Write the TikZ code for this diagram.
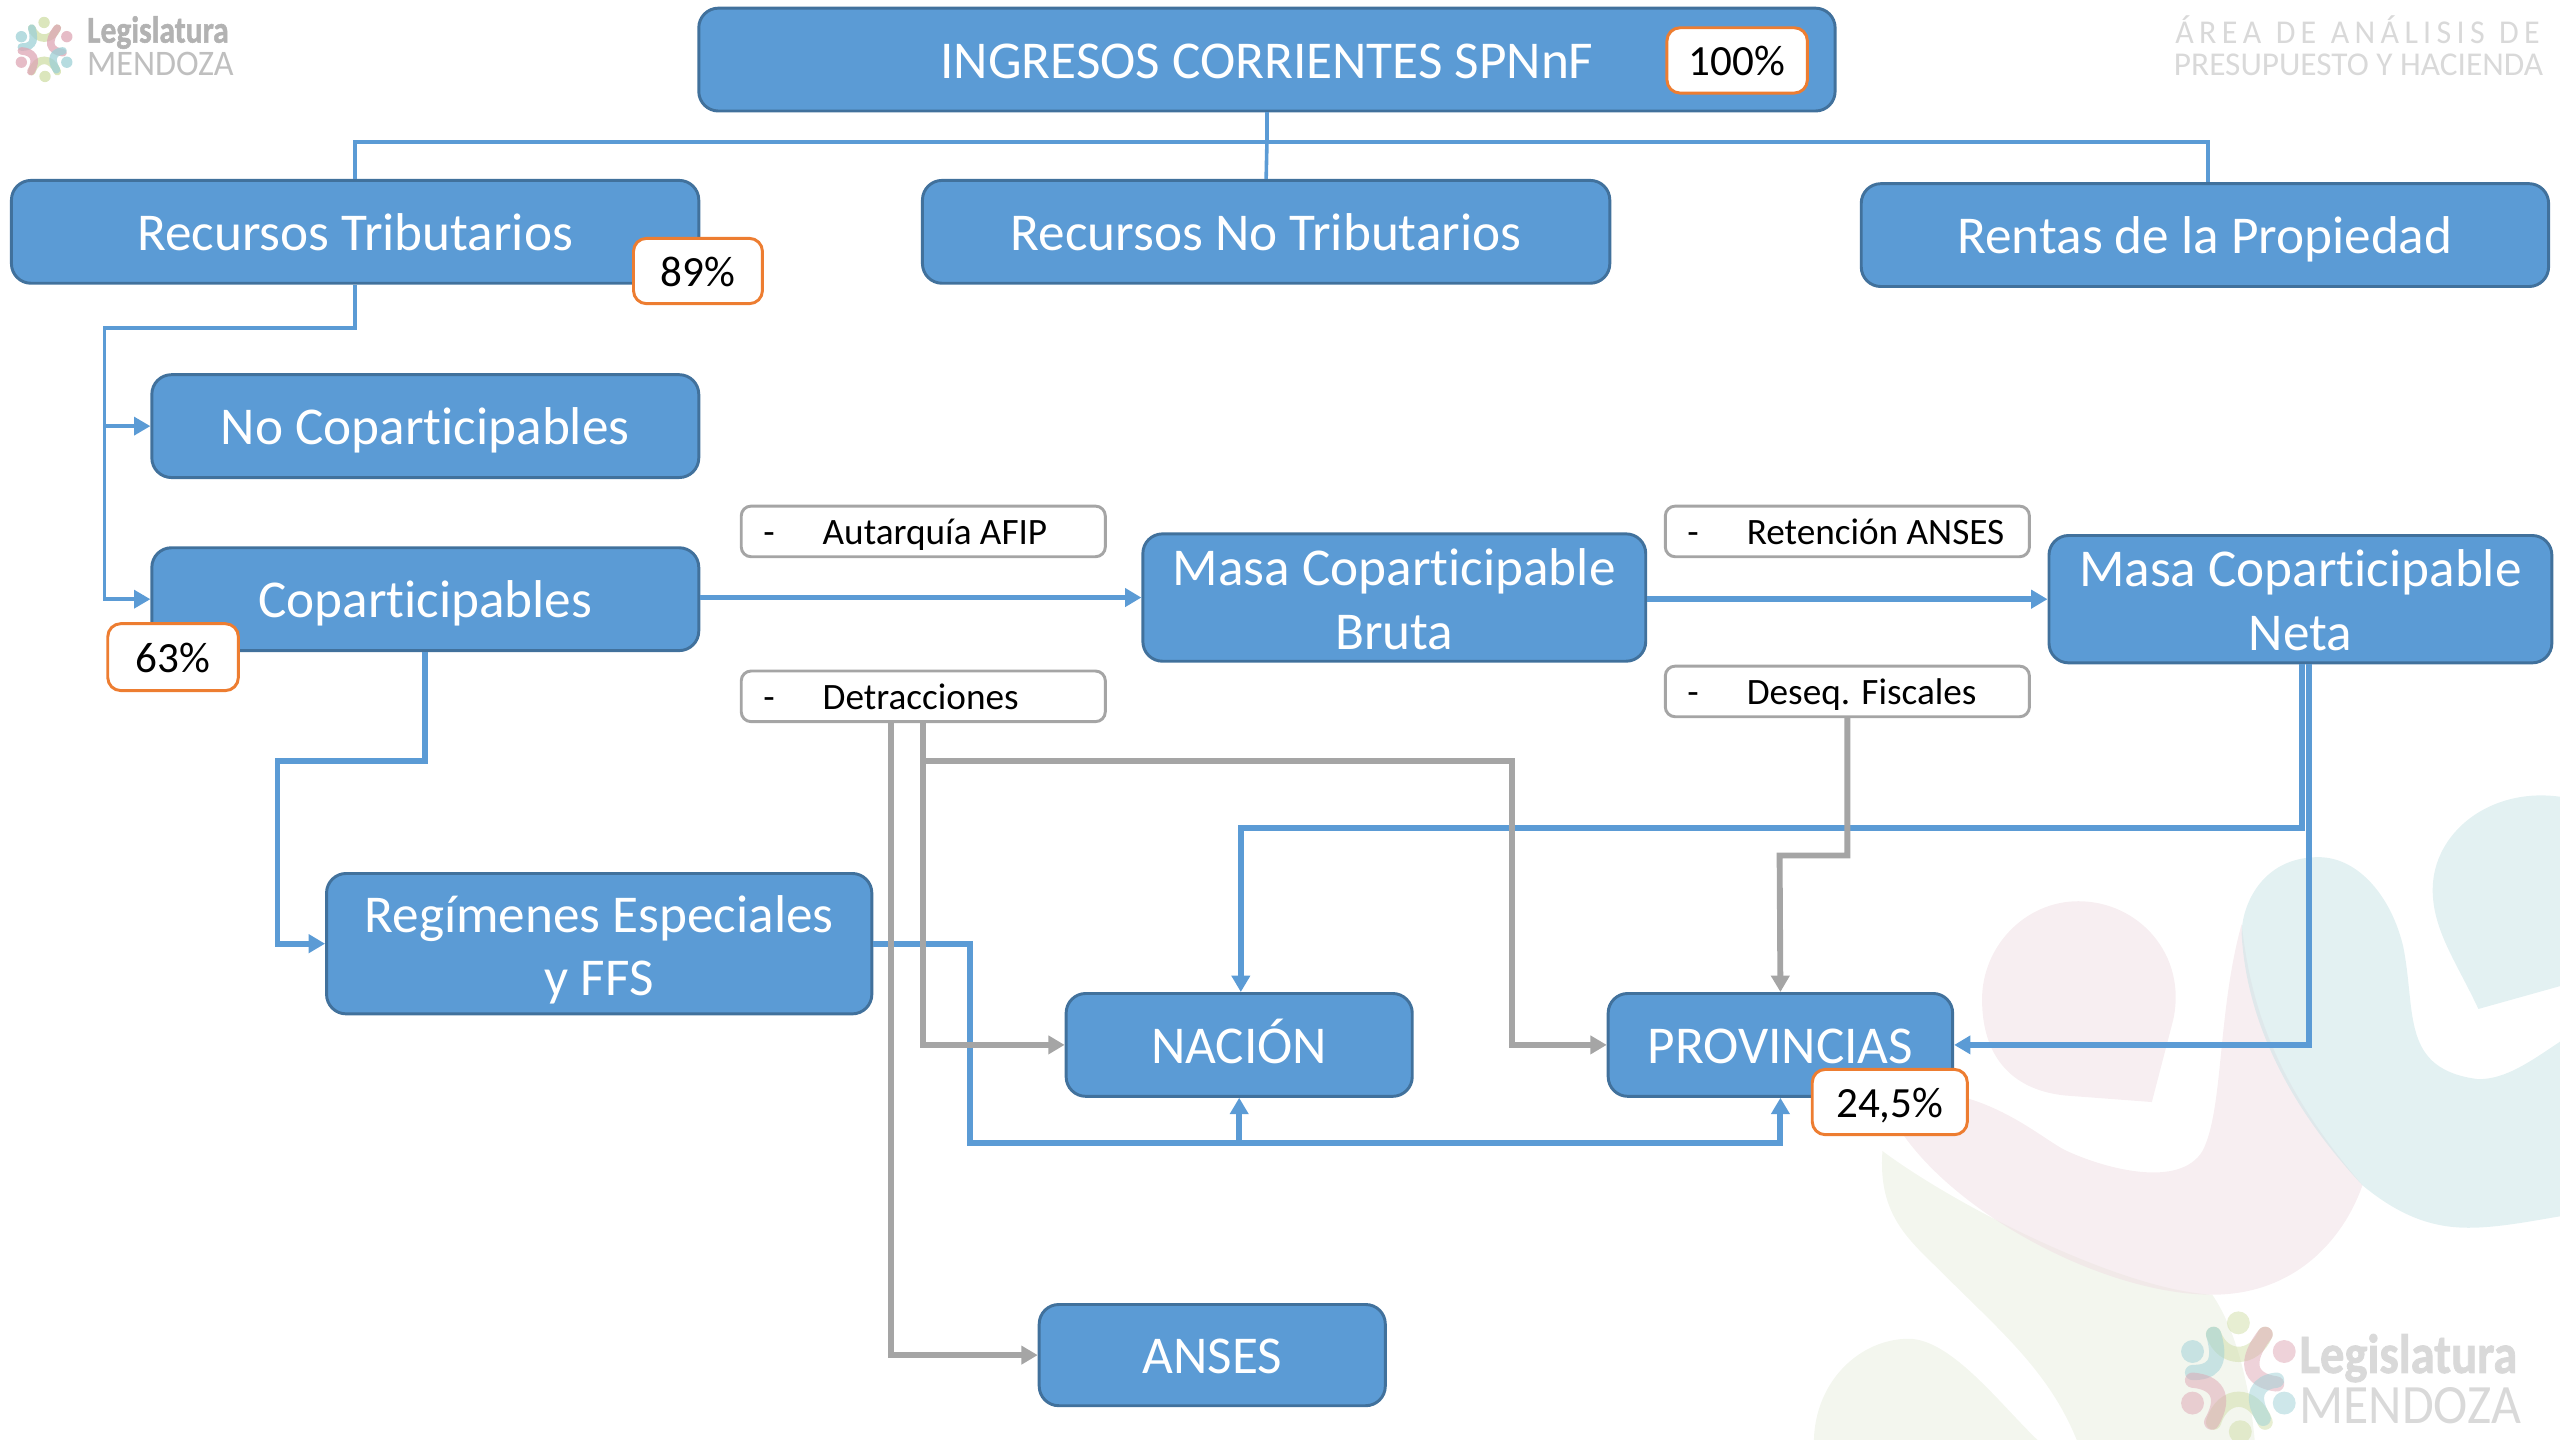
\documentclass[tikz,border=0pt]{standalone}
\usepackage{fontspec}
\setmainfont{Carlito}[Ligatures=NoCommon]
\newfontfamily\logofont{Carlito}[BoldFeatures={FakeBold=1.5}]
\usetikzlibrary{arrows.meta}
\definecolor{mblue}{HTML}{5B9BD5}
\definecolor{mborder}{HTML}{41719C}
\definecolor{morange}{HTML}{ED7D31}
\definecolor{mgrey}{HTML}{A5A5A5}
\definecolor{mpink}{HTML}{EFDDE3}
\definecolor{mteal}{HTML}{C7E3E5}
\definecolor{mgreen}{HTML}{E7EDDD}
\definecolor{lpink}{HTML}{DDA6B4}
\definecolor{lteal}{HTML}{9DD0D6}
\definecolor{lgreen}{HTML}{CFDDA6}
\tikzset{
  blockbox/.style={draw=mborder, line width=0.9pt, fill=mblue, text=white, rounded corners=6pt,
    align=center, inner sep=0pt, font=\fontsize{16.3}{19.5}\selectfont},
  oneline/.style={text height=11.5pt, text depth=0pt},
  badgebox/.style={draw=morange, line width=0.9pt, fill=white, rounded corners=4pt,
    inner sep=0pt, text height=9.4pt, text depth=0pt, font=\fontsize{13.2}{13.2}\selectfont},
  minusbox/.style={draw=mgrey, line width=0.9pt, fill=white, rounded corners=3pt, inner sep=0pt,
    minimum width=111.5pt, minimum height=15.5pt, text height=8.3pt, text depth=0pt, font=\fontsize{11.4}{11.4}\selectfont},
  logotext/.style={anchor=west, inner sep=0pt, text depth=0pt},
  thinline/.style={mblue, line width=1.1pt},
  thickline/.style={mblue, line width=1.8pt},
  greyline/.style={mgrey, line width=1.8pt},
  tip/.style={-{Triangle[length=5pt,width=5.5pt]}},
  blob/.style={opacity=0.5},
}
\newcommand{\minustext}[1]{\makebox[98pt][l]{\makebox[18.2pt][l]{-}#1}}
\newcommand{\flower}[4]{%
  \begin{scope}[shift={(#1,#2)}, scale=#3, opacity=#4, line cap=round, line width=4pt*#3]
    \draw [lgreen] (-13,-22) .. controls (-8,-8) and (8,-8) .. (14,-22);
    \draw [lgreen] (-13,24) .. controls (-8,8) and (8,8) .. (14,24);
    \draw [lteal] (-13,-22) .. controls (-8,-5) and (-15,-2) .. (-24,-2);
    \draw [lpink] (14,-22) .. controls (3,-8) and (5,2) .. (20,4);
    \draw [lpink] (-24,2) .. controls (-12,3) and (-6,10) .. (-14,24);
    \draw [lteal] (20,2) .. controls (10,3) and (6,10) .. (13,22);
    \foreach \dx/\dy/\col in {0/-28/lgreen, -24/-13/lteal, 24/-13/lpink, -24/14/lpink, 24/14/lteal, 1/29/lgreen} {
      \fill [\col] (\dx,\dy) circle (6);
    }
  \end{scope}
}

\begin{document}
\begin{tikzpicture}[x=0.5pt, y=-0.5pt]
  \useasboundingbox (0, 0) rectangle (1568, 882);

  % background shapes
  \fill [mgreen, blob] (1153,705) .. controls (1150,745) and (1170,760) .. (1190,780) .. controls (1225,815) and (1255,840) .. (1272,882) -- (1381,882) .. controls (1378,850) and (1370,815) .. (1355,793) .. controls (1300,790) and (1200,740) .. (1153,705) -- cycle;
  \fill [mgreen, blob] (1111,882) .. controls (1112,845) and (1140,820) .. (1169,820) .. controls (1195,820) and (1225,860) .. (1248,882) -- cycle;
  \fill [mpink, blob] (1273,552) .. controls (1240,552) and (1214,580) .. (1214,612) .. controls (1214,650) and (1235,668) .. (1265,671) -- (1318,675) -- (1331,625) .. controls (1340,585) and (1310,552) .. (1273,552) -- cycle;
  \fill [mpink, blob] (1165,694) .. controls (1175,682) and (1190,668) .. (1206,673) .. controls (1235,682) and (1255,700) .. (1266,705) .. controls (1290,716) and (1335,728) .. (1349,705) .. controls (1362,680) and (1358,620) .. (1373,566) .. controls (1378,610) and (1390,660) .. (1447,726) .. controls (1435,760) and (1405,793) .. (1355,793) .. controls (1290,793) and (1200,745) .. (1165,694) -- cycle;
  \fill [mteal, blob] (1420,525) .. controls (1385,525) and (1373,555) .. (1373,572) .. controls (1375,610) and (1390,665) .. (1447,726) .. controls (1470,745) and (1490,752) .. (1512,752) .. controls (1530,752) and (1550,748) .. (1568,745) -- (1568,638) .. controls (1550,650) and (1535,661) .. (1518,661) .. controls (1470,655) and (1480,620) .. (1472,580) .. controls (1465,550) and (1445,525) .. (1420,525) -- cycle;
  \fill [mteal, blob] (1568,488) .. controls (1525,482) and (1490,510) .. (1490,545) .. controls (1490,570) and (1505,590) .. (1518,618) -- (1568,604) -- cycle;

  % logos and heading
  \flower{27}{30}{0.58}{0.75}
  \node (logoa) [logotext, text=gray!60, font=\fontsize{11.5}{11.5}\selectfont\logofont\bfseries] at (53, 18) {\scalebox{0.84}[1]{Legislatura}};
  \node (logob) [logotext, text=gray!50, font=\fontsize{11}{11}\selectfont] at (53, 39) {\scalebox{0.95}[1]{MENDOZA}};
  \flower{1371}{843}{1.17}{0.5}
  \node (logoc) [logotext, text=gray!30, font=\fontsize{17}{17}\selectfont\logofont\bfseries] at (1408, 829) {\scalebox{0.875}[1]{Legislatura}};
  \node (logod) [logotext, text=gray!30, font=\fontsize{17}{17}\selectfont] at (1408, 861) {\scalebox{0.93}[1]{MENDOZA}};
  \node (areaa) [text=gray!30, anchor=east, inner sep=0pt, font=\fontsize{10.2}{10.2}\selectfont] at (1556, 18) {\scalebox{0.96}[1]{Á\,R\,E\,A\ \ D\,E\ \ A\,N\,Á\,L\,I\,S\,I\,S\ \ D\,E}};
  \node (areab) [text=gray!30, anchor=east, inner sep=0pt, font=\fontsize{10.2}{10.2}\selectfont] at (1558, 40) {PRESUPUESTO Y HACIENDA};

  % blocks
  \node (ingresos) [blockbox, oneline, minimum width=348pt, minimum height=31.5pt] at (776, 36.5) {INGRESOS CORRIENTES SPNnF};
  \node (tributarios) [blockbox, oneline, minimum width=210.5pt, minimum height=31.5pt] at (217.5, 142) {Recursos Tributarios};
  \node (notributarios) [blockbox, oneline, minimum width=210.5pt, minimum height=31.5pt] at (775.5, 142) {Recursos No Tributarios};
  \node (rentas) [blockbox, oneline, minimum width=210.5pt, minimum height=31.5pt] at (1350.5, 144) {Rentas de la Propiedad};
  \node (nocopart) [blockbox, oneline, minimum width=167.5pt, minimum height=31.5pt] at (260.5, 261) {No Coparticipables};
  \node (copart) [blockbox, oneline, minimum width=167.5pt, minimum height=31.5pt] at (260.5, 367) {Coparticipables};
  \node (bruta) [blockbox, minimum width=154pt, minimum height=39pt] at (854, 366) {\rule{0pt}{12.5pt}Masa Coparticipable\\Bruta};
  \node (neta) [blockbox, minimum width=154pt, minimum height=39pt] at (1409, 367) {\rule{0pt}{12pt}Masa Coparticipable\\Neta};
  \node (regimenes) [blockbox, minimum width=167pt, minimum height=43pt] at (367, 578) {\rule{0pt}{15pt}Regímenes Especiales\\y FFS};
  \node (nacion) [blockbox, oneline, minimum width=106pt, minimum height=31.5pt] at (759, 640) {NACIÓN};
  \node (provincias) [blockbox, oneline, minimum width=105.5pt, minimum height=31.5pt] at (1090.5, 640) {PROVINCIAS};
  \node (anses) [blockbox, oneline, minimum width=106pt, minimum height=31pt] at (742.5, 830) {ANSES};

  % boxes of what is taken away
  \node (autarquia) [minusbox] at (565.5, 325.5) {\minustext{Autarquía AFIP}};
  \node (detracciones) [minusbox] at (565.5, 426.5) {\minustext{Detracciones}};
  \node (retencion) [minusbox] at (1131.5, 325.5) {\minustext{Retención ANSES}};
  \node (deseq) [minusbox] at (1131.5, 423.5) {\minustext{Deseq. Fiscales}};

  % connectors
  \draw [thinline] (ingresos.south) -- (776, 87) coordinate (busa);
  \draw [thinline] (tributarios.north) |- (busa) -| ([xshift=1pt]rentas.north);
  \draw [thinline] (busa) -- (notributarios.north);
  \draw [thinline, tip] (tributarios.south) |- (64, 201) |- (copart.west);
  \draw [thinline, tip] (64, 261) -- (nocopart.west);
  \draw [thickline, tip] (copart.east |- bruta.west) -- (bruta.west);
  \draw [thickline, tip] (bruta.east |- neta.west) -- (neta.west);
  \draw [thickline, tip] (copart.south) |- (170, 466) |- (regimenes.west);
  \draw [thickline, tip] ([xshift=0.5pt]neta.south) |- (760, 507) -- (nacion.north -| 760, 0);
  \draw [thickline, tip] ([xshift=2.5pt]neta.south) |- (provincias.east);
  \draw [thickline, tip] (regimenes.east) -| (594, 700) -| (provincias.south);
  \draw [thickline, tip] (nacion.south |- 0, 700) -- (nacion.south);
  \draw [greyline, tip] ([xshift=-10pt]detracciones.south) |- (anses.west);
  \draw [greyline, tip] (detracciones.south) |- (nacion.west);
  \draw [greyline, tip] (566, 466) -| (926, 640) -- (provincias.west);
  \draw [greyline, tip] (deseq.south) |- (1090, 524) -- (provincias.north);

  % percentages
  \node (pcttop) [badgebox, minimum width=43pt, minimum height=20pt] at (1064, 37) {100\%};
  \node (pcttrib) [badgebox, minimum width=39.5pt, minimum height=20pt] at (427.5, 166) {89\%};
  \node (pctcop) [badgebox, minimum width=40pt, minimum height=20.5pt] at (106, 402.5) {63\%};
  \node (pctprov) [badgebox, minimum width=47.5pt, minimum height=20pt] at (1157.5, 675) {24,5\%};
\end{tikzpicture}
\end{document}
